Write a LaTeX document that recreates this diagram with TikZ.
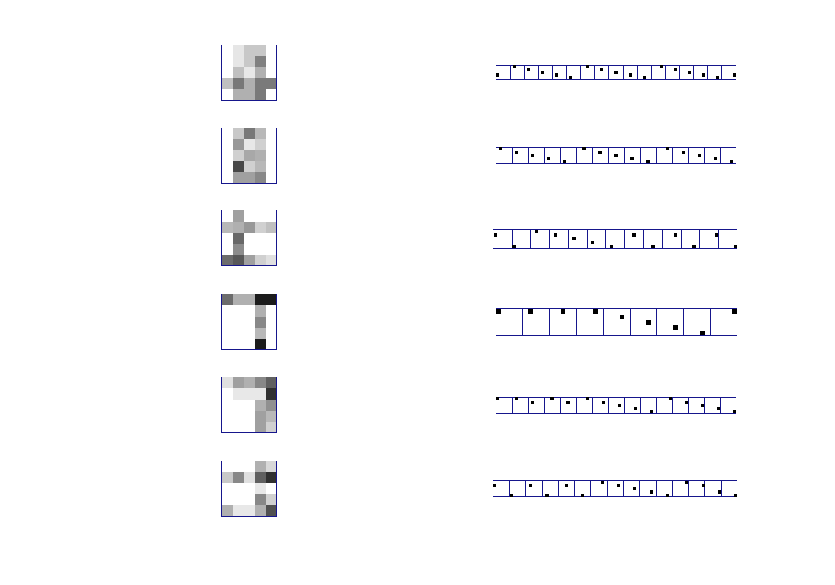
\documentclass[tikz,border=0pt]{standalone}
\definecolor{axblue}{RGB}{22,22,140}
\tikzset{
  axisline/.style={draw=axblue,line width=1pt},
  dotmark/.style={fill=black}
}
% gray image: #1 = top y, #2 = 25 gray values (row-major, 255 = white)
\newcommand\grayimg[2]{%
  \foreach [count=\i from 0] \v in {#2}{%
    \pgfmathtruncatemacro\cc{mod(\i,5)}%
    \pgfmathtruncatemacro\rr{div(\i,5)}%
    \ifnum\v<255
      \fill[fill={rgb,255:red,\v;green,\v;blue,\v}] (221.6+\cc*11.06,#1+\rr*11.06) rectangle ++(11.06,11.06);
    \fi
  }%
  \draw[axisline] (221.6,#1) -- (221.6,#1+55.3) -- (276.9,#1+55.3) -- (276.9,#1);
}
% strip of square boxes: #1 left, #2 box width, #3 number of boxes, #4 centre y, #5 list col/row
\newcommand\stripplot[5]{%
  \pgfmathsetmacro\sT{#4-#2/2}%
  \pgfmathsetmacro\sB{#4+#2/2}%
  \pgfmathsetmacro\sR{#1+#3*#2}%
  \pgfmathtruncatemacro\nm{#3-1}%
  \draw[axisline] (#1,\sT) -- (\sR,\sT);
  \draw[axisline] (#1,\sB) -- (\sR,\sB);
  \foreach \k in {1,...,\nm}{\draw[axisline] (#1+\k*#2,\sT) -- (#1+\k*#2,\sB);}
  \pgfmathsetmacro\ds{max(0.88*#2/5,3.1)}%
  \foreach [count=\k from 0] \c/\r in {#5}{%
    \pgfmathsetmacro\dx{#1+\k*#2+(\c+0.5)*#2/5}%
    \pgfmathsetmacro\dy{\sT+(\r+0.5)*#2/5}%
    \fill[dotmark] (\dx-\ds/2,\dy-\ds/2) rectangle (\dx+\ds/2,\dy+\ds/2);
  }
}
\begin{document}
\begin{tikzpicture}[x=1pt,y=-1pt]
\useasboundingbox (0,0) rectangle (835,585);
\fill[white] (0,0) rectangle (835,585);
% left images
\grayimg{45}{255,230,200,200,255, 255,230,200,128,255, 255,192,232,176,255, 192,120,176,122,122, 255,176,176,122,255}
\grayimg{128}{255,200,120,184,255, 255,152,232,208,255, 255,208,168,176,255, 255,72,208,184,255, 255,160,160,136,255}
\grayimg{210.5}{255,160,255,255,255, 184,176,152,208,192, 255,104,255,255,255, 255,140,255,255,255, 108,88,160,208,224}
\grayimg{294.4}{108,176,176,28,28, 255,255,255,176,255, 255,255,255,136,255, 255,255,255,184,255, 255,255,255,28,255}
\grayimg{377.4}{224,160,176,136,96, 255,232,232,232,48, 255,255,255,176,144, 255,255,255,160,184, 255,255,255,160,208}
\grayimg{460.8}{255,255,255,176,216, 200,136,224,96,48, 255,255,255,232,255, 255,255,255,136,208, 176,232,232,176,80}
% right strips
\stripplot{496}{14.12}{17}{72.2}{0/3,1/0,1/1,1/2,1/3,1/4,2/0,2/1,2/2,2/3,2/4,3/0,3/1,3/2,3/3,3/4,4/3}
\stripplot{496}{16}{15}{155.3}{1/0,1/1,1/2,1/3,1/4,2/0,2/1,2/2,2/3,2/4,3/0,3/1,3/2,3/3,3/4}
\stripplot{493.3}{18.77}{13}{238.8}{0/1,0/4,1/0,1/1,1/2,1/3,1/4,2/1,2/4,3/1,3/4,4/1,4/4}
\stripplot{496}{26.8}{9}{322.3}{0/0,1/0,2/0,3/0,3/1,3/2,3/3,3/4,4/0}
\stripplot{496}{16}{15}{405.3}{0/0,1/0,1/1,2/0,2/1,3/0,3/1,3/2,3/3,3/4,4/0,4/1,4/2,4/3,4/4}
\stripplot{493.3}{16.27}{15}{488.7}{0/1,0/4,1/1,1/4,2/1,2/4,3/0,3/1,3/2,3/3,3/4,4/0,4/1,4/3,4/4}
\end{tikzpicture}
\end{document}
